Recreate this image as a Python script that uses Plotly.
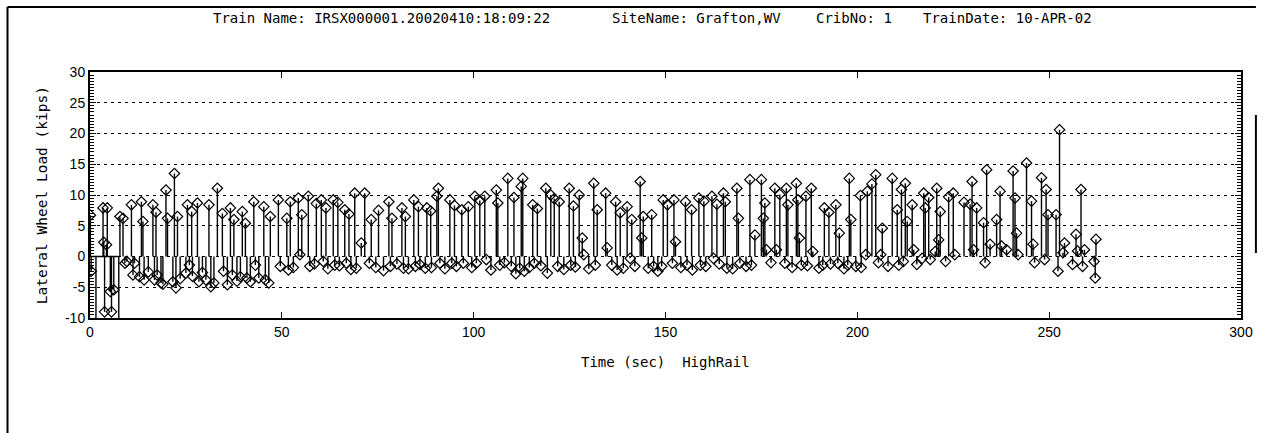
import plotly.graph_objects as go

# Lateral wheel load samples for the HighRail gauge (time in seconds, load in kips)
time_s = [
    0.1, 0.3, 1.55, 3.4, 3.6, 3.8, 4.3, 4.5, 5.3, 5.6, 6.2, 7.5, 7.8, 8.6, 9.1,
    10.8, 11.2, 11.6, 12.9, 13.4, 13.8, 14.1, 16.4, 16.8, 18.5, 19.8, 20.2, 21.6,
    22.0, 22.4, 22.8, 25.0, 25.4, 25.9, 28.0, 28.4, 30.2, 31.0, 31.5, 32.3, 33.2,
    34.5, 34.8, 36.6, 37.1, 37.5, 39.2, 39.7, 40.5, 40.9, 42.7, 43.1, 44.0, 45.3,
    45.7, 46.6, 47.0, 49.1, 49.6, 51.3, 51.7, 52.2, 54.3, 54.7, 55.2, 56.9, 57.3,
    60.3, 60.8, 63.4, 63.8, 66.4, 66.8, 69.0, 69.4, 70.7, 71.6, 72.8, 73.3, 75.2,
    77.9, 78.3, 78.7, 81.3, 81.7, 82.2, 84.4, 84.8, 87.4, 87.8, 90.4, 90.8, 91.2,
    93.8, 94.3, 96.9, 97.3, 98.6, 100.3, 100.7, 102.9, 103.3, 105.9, 106.3, 106.8,
    108.9, 109.8, 112.0, 112.4, 112.8, 113.2, 115.4, 115.8, 118.8, 119.2, 120.1,
    121.9, 122.3, 124.9, 125.3, 127.5, 128.3, 128.7, 131.3, 131.7, 132.2, 134.4,
    134.8, 137.0, 137.4, 140.0, 140.8, 141.2, 143.4, 143.8, 144.2, 146.4, 146.9,
    149.0, 149.4, 151.8, 152.2, 152.6, 155.2, 155.6, 158.7, 159.1, 162.1, 162.5,
    165.1, 165.6, 166.0, 168.6, 169.0, 169.4, 172.0, 172.4, 173.3, 175.0, 175.5,
    175.9, 176.3, 178.5, 178.9, 181.1, 181.5, 181.9, 184.1, 184.5, 184.9, 185.4,
    188.0, 188.4, 191.0, 191.4, 194.4, 194.9, 195.3, 197.5, 197.9, 198.3, 199.6,
    202.2, 202.6, 204.8, 206.1, 206.5, 209.1, 210.4, 210.8, 212.5, 213.0, 214.3,
    214.7, 216.9, 217.3, 217.7, 220.3, 220.7, 221.2, 221.6, 225.0, 225.4, 229.4,
    229.9, 230.3, 231.1, 232.9, 233.3, 233.7, 234.6, 236.3, 237.2, 237.6, 238.9,
    240.6, 241.1, 241.5, 241.9, 244.1, 245.4, 245.8, 246.2, 248.0, 248.8, 249.2,
    249.7, 251.8, 252.3, 252.7, 253.6, 254.0, 256.1, 257.0, 257.4, 258.3, 258.7,
    259.2, 261.7, 262.0, 262.2,
    9.6, 15.2, 17.2, 17.5, 19.0, 23.5, 26.5, 26.7, 29.3, 35.8, 38.3, 41.8,
    53.0, 58.5, 62.0, 65.0, 68.0, 74.5, 76.5, 80.0, 83.0, 86.0, 89.0, 92.5,
    95.5, 99.5, 104.5, 108.0, 111.0, 114.5, 117.5, 123.5, 126.5, 130.0, 136.0,
    139.0, 142.0, 145.5, 148.0, 154.0, 157.0, 160.5, 164.0, 167.5, 171.0, 177.5,
    183.0, 187.0, 190.0, 193.0, 196.5, 201.0, 205.5, 208.0, 212.0, 215.5, 219.0,
    223.0,
    59.0, 61.5, 64.6, 67.5, 85.6, 88.8, 95.0, 101.6, 110.5, 116.6, 121.0, 126.0,
    138.2, 150.5, 156.8, 160.0, 163.4, 179.8, 186.6, 192.6, 200.8, 203.8, 211.5,
    218.6, 223.8, 227.8,
]
load_kips = [
    6.7, -2.4, -12.0, 7.9, 2.3, -9.0, 1.9, 7.9, -5.7, -9.0, -5.4, -12.0, 6.5, 6.2, -1.1,
    8.4, -3.0, -1.1, -3.3, 8.9, 5.7, -3.8, 8.4, -3.8, -4.3, 10.8, 6.2, -4.1,
    13.5, -5.1, 6.5, -2.7, 8.4, -1.4, 8.7, -4.1, -3.8, 8.4, -4.9, -4.3, 11.1,
    7.0, -2.4, 7.9, -3.0, 6.0, -3.3, 7.3, 5.4, -3.5, 8.9, -1.4, -3.5, 8.1,
    -3.8, -4.3, 6.5, 9.2, -1.6, 6.2, -2.2, 8.9, 9.5, 0.3, 6.8, 9.8, -1.6,
    9.2, -0.8, 9.2, -1.4, 7.6, -1.1, 10.3, -1.9, 2.2, 10.3, -1.1, 6.0, 7.5,
    8.9, -1.6, 6.2, 7.9, -1.9, 6.5, 9.2, -1.6, -1.9, 7.9, 9.8, 11.1, -1.1,
    9.2, -1.1, 7.6, -1.1, 8.1, 9.8, -1.1, 9.8, -0.5, 10.8, 8.7, -1.4,
    12.7, -1.6, -1.9, 11.4, 12.7, -2.4, 8.4, -1.1, 11.1, -2.7, 10.0,
    -1.6, 8.9, 11.1, -1.4, 10.0, 3.0, 0.3, 11.9, -1.4, 7.6, 10.3,
    1.4, 8.9, -2.2, 8.1, -0.3, 6.0, 12.2, 3.0, 6.5, 6.8, -1.6,
    -1.6, 9.2, -1.1, 9.2, 2.4, 8.9, -1.4, 9.5, -1.4, 9.8, -0.3,
    10.3, 8.9, -1.9, 11.1, 6.2, -1.1, 12.5, -1.4, 3.5, 12.5, 6.2,
    8.7, 1.1, 11.1, 1.1, -1.1, 11.1, 8.4, 11.9, 9.2, 3.0, -1.4,
    11.1, 0.8, -1.4, 7.9, 8.4, -1.1, 3.8, -1.4, 12.7, 6.0, -1.6,
    0.3, 10.6, 13.3, 0.3, 4.6, 12.7, 7.6, -1.4, 11.9, 5.7, 8.4,
    1.1, -0.3, 10.3, 7.9, 0.8, 11.1, 2.7, 7.3, 10.3, 0.3, 8.5,
    12.2, 1.1, 7.9, 5.5, -1.0, 14.1, 2.0, 6.0, 10.6, 1.7, 1.1,
    13.9, 9.5, 3.8, 0.3, 15.2, 9.0, 2.0, -1.0, 12.8, -0.5, 10.9,
    6.8, 6.8, -2.4, 20.6, 0.6, 2.2, -1.3, 3.6, 0.9, 10.9, -1.6,
    1.1, -0.8, -3.5, 2.8,
    -0.8, -2.5, 7.2, -3.0, -4.5, -3.6, 7.3, -3.2, -2.6, -4.6, -4.0, -4.1,
    -1.8, -1.2, -2.0, -1.5, -2.1, -1.8, -2.3, -1.2, -2.0, -1.3, -1.8, -2.0,
    -1.6, -1.8, -2.2, -1.0, -2.8, -1.8, -1.5, -2.1, -1.7, -2.0, -1.4,
    -1.9, -1.6, -1.9, -2.4, -1.8, -2.2, -1.6, -1.2, -2.0, -1.6, -1.0,
    -1.8, -1.5, -1.9, -1.2, -2.0, -1.8, -1.0, -1.6, -0.8, -1.3, -0.5,
    -0.8,
    8.6, 7.9, 8.8, 6.9, 8.1, 7.4, 8.3, 9.1, 9.6, 7.8, 9.4, 8.2,
    7.1, 8.4, 7.6, 9.0, 8.5, 10.1, 9.8, 7.2, 9.9, 11.8, 10.9,
    9.6, 9.7, 8.8,
]

x_ticks = [0, 50, 100, 150, 200, 250, 300]
y_ticks = [-10, -5, 0, 5, 10, 15, 20, 25, 30]

header_parts = [
    "Train Name: IRSX000001.20020410:18:09:22",
    "SiteName: Grafton,WV",
    "CribNo: 1",
    "TrainDate: 10-APR-02",
]
y_title = "Lateral Wheel Load (kips)"
x_title = "Time (sec)\u00a0\u00a0HighRail"

samples = sorted(zip(time_s, load_kips))

# Stem segments from the zero baseline to each sample
stem_x, stem_y = [], []
for t, v in samples:
    stem_x += [t, t, None]
    stem_y += [0, v, None]

fig = go.Figure()
fig.add_trace(go.Scatter(
    x=stem_x, y=stem_y, mode="lines",
    line=dict(color="black", width=1.4), hoverinfo="skip", showlegend=False,
))
fig.add_trace(go.Scatter(
    x=[t for t, _ in samples], y=[v for _, v in samples], mode="markers",
    marker=dict(symbol="diamond-open", size=8, color="black", line=dict(width=1.2)),
    showlegend=False,
))
# solid baseline under the clipped stems at the start of the record
clip_end = max(t for t, v in samples if v < -10)
fig.add_trace(go.Scatter(
    x=[0, clip_end], y=[0, 0], mode="lines",
    line=dict(color="black", width=1.5), hoverinfo="skip", showlegend=False,
))

mono = "DejaVu Sans Mono"
sans = "Liberation Sans"

fig.update_layout(
    width=1265, height=433,
    margin=dict(l=90, r=17, t=72, b=115),
    paper_bgcolor="white", plot_bgcolor="white",
    xaxis=dict(
        range=[0, 300], tickvals=x_ticks, ticktext=[str(v) for v in x_ticks],
        ticks="inside", ticklen=6, tickcolor="black", tickwidth=1,
        showline=True, linecolor="black", linewidth=2, mirror="ticks",
        showgrid=False, zeroline=False,
        tickfont=dict(family=sans, size=14, color="black"),
    ),
    yaxis=dict(
        range=[-10, 30], tickvals=y_ticks, ticktext=[str(v) for v in y_ticks],
        ticks="inside", ticklen=6, tickcolor="black", tickwidth=1,
        showline=True, linecolor="black", linewidth=2, mirror="ticks",
        showgrid=True, gridcolor="black", gridwidth=1, griddash="3px,4px",
        zeroline=False,
        minor=dict(dtick=0.5, ticks="inside", ticklen=4, tickcolor="black",
                   tickwidth=1, showgrid=False),
        tickfont=dict(family=sans, size=14, color="black"),
    ),
)

# Header line, split into its fields
header_x = [212, 613, 818, 926]
for px, txt in zip(header_x, header_parts):
    fig.add_annotation(
        x=(px - 90) / 1158, y=(318 - 18) / 246, xref="paper", yref="paper",
        text=txt, showarrow=False, xanchor="left", yanchor="middle",
        font=dict(family=mono, size=14, color="black"),
    )

fig.add_annotation(
    x=(42 - 90) / 1158, y=0.5, xref="paper", yref="paper",
    text=y_title, textangle=-90, showarrow=False,
    xanchor="center", yanchor="middle",
    font=dict(family=mono, size=14.5, color="black"),
)
fig.add_annotation(
    x=0.5, y=(318 - 362) / 246, xref="paper", yref="paper",
    text=x_title, showarrow=False, xanchor="center", yanchor="middle",
    font=dict(family=mono, size=14, color="black"),
)

# Outer page frame
def px_x(p):
    return (p - 90) / 1158

def px_y(p):
    return (318 - p) / 246

frame = dict(color="black", width=2)
fig.add_shape(type="line", xref="paper", yref="paper",
              x0=px_x(7), y0=px_y(7), x1=px_x(1263), y1=px_y(7), line=frame)
fig.add_shape(type="line", xref="paper", yref="paper",
              x0=px_x(7), y0=px_y(7), x1=px_x(7), y1=px_y(440), line=frame)
fig.add_shape(type="line", xref="paper", yref="paper",
              x0=px_x(1263), y0=px_y(115), x1=px_x(1263), y1=px_y(253), line=frame)

fig.write_html("out.html")
